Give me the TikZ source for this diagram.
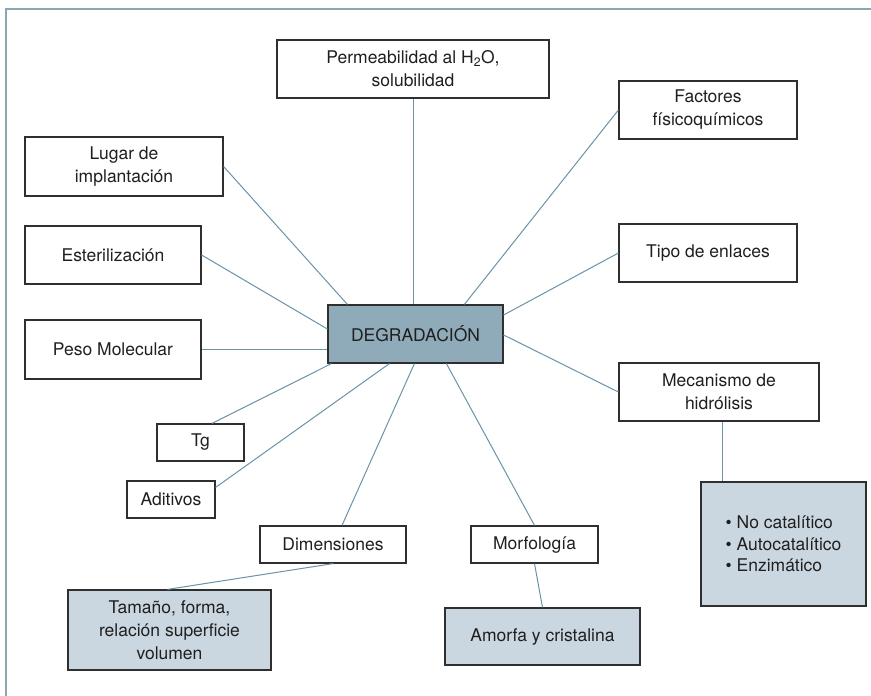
\documentclass[tikz,border=0pt]{standalone}
\usepackage{fontspec}
\setmainfont{TeX Gyre Heros}
\usetikzlibrary{calc}
\definecolor{boxline}{HTML}{2F2F2F}
\definecolor{connline}{HTML}{6A93A8}
\definecolor{framecol}{HTML}{8CA6B4}
\definecolor{degfill}{HTML}{8FABB9}
\definecolor{lightfill}{HTML}{CBD7E0}
\begin{document}
\begin{tikzpicture}[x=1pt,y=-1pt,
  box/.style={draw=boxline, line width=1.2pt, align=center, inner sep=0pt, fill=white,
    font=\fontsize{17.5}{23}\selectfont, text=black!88},
  degbox/.style={box, fill=degfill},
  subbox/.style={box, fill=lightfill},
  conn/.style={draw=connline, line width=1pt},
  framestyle/.style={draw=framecol, line width=1.2pt}]
\useasboundingbox (0,0) rectangle (871,696);
\draw[framestyle] (6,696) -- (6,9) -- (871,9);

\node[box, minimum width=272pt, minimum height=58pt] (perm) at (413,69) {Permeabilidad al H\textsubscript{2}O,\\solubilidad};
\node[box, minimum width=178pt, minimum height=58pt] (fact) at (708,110) {Factores\\físicoquímicos};
\node[box, minimum width=198pt, minimum height=59pt] (lugar) at (124,166.5) {Lugar de\\implantación};
\node[box, minimum width=176pt, minimum height=58pt] (ester) at (113,255) {Esterilización};
\node[box, minimum width=178pt, minimum height=58pt] (tipo) at (708,253) {Tipo de enlaces};
\node[degbox, minimum width=175pt, minimum height=58pt] (deg) at (415.5,334) {DEGRADACIÓN};
\node[box, minimum width=176pt, minimum height=59pt] (peso) at (113,349.5) {Peso Molecular};
\node[box, minimum width=200pt, minimum height=58pt] (meca) at (719,392) {Mecanismo de\\hidrólisis};
\node[box, minimum width=87pt, minimum height=37pt] (tg) at (200.5,442.5) {Tg};
\node[box, minimum width=88pt, minimum height=37pt] (adit) at (171,499.5) {Aditivos};
\node[box, minimum width=146pt, minimum height=37pt] (dim) at (333,544.5) {Dimensiones};
\node[box, minimum width=127pt, minimum height=37pt] (morf) at (534.5,544.5) {Morfología};
\node[subbox, minimum width=203pt, minimum height=80pt] (tam) at (169.5,630) {Tamaño, forma,\\relación superficie\\volumen};
\node[subbox, minimum width=195pt, minimum height=57pt] (amor) at (542.5,636.5) {Amorfa y cristalina};
\node[subbox, minimum width=165pt, minimum height=124pt, align=left, font=\fontsize{17.5}{21.5}\selectfont] (noc) at (783.5,544) {• No catalítico\\• Autocatalítico\\• Enzimático};

\coordinate (mt) at ($(meca.south)+(3,0)$);
\draw[conn] (perm.south) -- (perm.south |- deg.north);
\draw[conn] (fact.west) -- ($(deg.north west)+(137,0)$);
\draw[conn] (lugar.east) -- ($(deg.north west)+(20,0)$);
\draw[conn] (ester.east) -- ($(deg.west)+(0,-5)$);
\draw[conn] (peso.east) -- (peso.east -| deg.west);
\draw[conn] (tipo.west) -- ($(deg.east)+(0,-19)$);
\draw[conn] (meca.west) -- ($(deg.east)+(0,1)$);
\draw[conn] ($(tg.north)+(11.5,0)$) -- ($(deg.south west)+(4,0)$);
\draw[conn] ($(adit.north east)+(0,7)$) -- ($(deg.south west)+(62,0)$);
\draw[conn] ($(dim.north)+(9,0)$) -- ($(deg.south west)+(87,0)$);
\draw[conn] (morf.north) -- ($(deg.south west)+(119,0)$);
\draw[conn] (mt) -- (mt |- noc.north);
\draw[conn] (dim.south) -- ($(tam.north)+(-2,0)$);
\draw[conn] (morf.south) -- (amor.north);
\end{tikzpicture}
\end{document}
